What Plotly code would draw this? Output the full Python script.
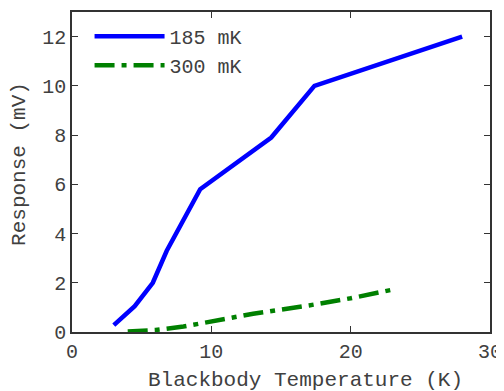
import plotly.graph_objects as go

# Data
temp_185 = [3.0, 4.5, 5.8, 6.8, 9.2, 14.3, 17.4, 28.0]
resp_185 = [0.28, 1.05, 2.0, 3.3, 5.8, 7.9, 10.0, 12.0]
temp_300 = [4.0, 6.0, 8.0, 10.0, 13.0, 17.0, 20.0, 23.0]
resp_300 = [0.02, 0.08, 0.22, 0.42, 0.74, 1.08, 1.37, 1.72]
x_ticks = [0, 10, 20, 30]
y_ticks = [0, 2, 4, 6, 8, 10, 12]
x_title = "Blackbody Temperature (K)"
y_title = "Response (mV)"

FONT = "Liberation Mono, Courier New, monospace"
AX = "#333333"
TXT = "#404040"

fig = go.Figure()
fig.add_trace(go.Scatter(x=temp_185, y=resp_185, mode="lines", name="185 mK",
                         line=dict(color="#0000ff", width=4.5)))
fig.add_trace(go.Scatter(x=temp_300, y=resp_300, mode="lines", name="300 mK",
                         line=dict(color="#008000", width=4.5, dash="20px,7px,5px,7px")))

axis_common = dict(showgrid=False, zeroline=False, showline=True, linecolor=AX, linewidth=1.5,
                   mirror="allticks", ticks="inside", ticklen=6, tickcolor=AX, tickwidth=1.2,
                   automargin=False,
                   tickfont=dict(family=FONT, size=20, color=TXT))

# page body has an 8px default margin, so the figure is sized/placed to compensate
fig.update_layout(
    width=496, height=383,
    margin=dict(l=64, r=14, t=4, b=59),
    paper_bgcolor="white", plot_bgcolor="white",
    font=dict(family=FONT, size=20, color=TXT),
    showlegend=True,
    legend=dict(x=0.042, y=0.985, xanchor="left", yanchor="top", bgcolor="rgba(0,0,0,0)",
                font=dict(family=FONT, size=20, color=TXT), itemwidth=70,
                tracegroupgap=0),
    xaxis=dict(range=[0, 30], tickvals=x_ticks, **axis_common),
    yaxis=dict(range=[0, 13], tickvals=y_ticks, **axis_common),
    annotations=[
        dict(text=x_title, xref="paper", yref="paper", x=0.5586, y=-0.153,
             xanchor="center", yanchor="middle", showarrow=False,
             font=dict(family=FONT, size=21, color=TXT)),
        dict(text=y_title, xref="paper", yref="paper", x=-0.127, y=0.525,
             xanchor="center", yanchor="middle", showarrow=False, textangle=-90,
             font=dict(family=FONT, size=21, color=TXT)),
    ],
)

fig.write_html("out.html")
